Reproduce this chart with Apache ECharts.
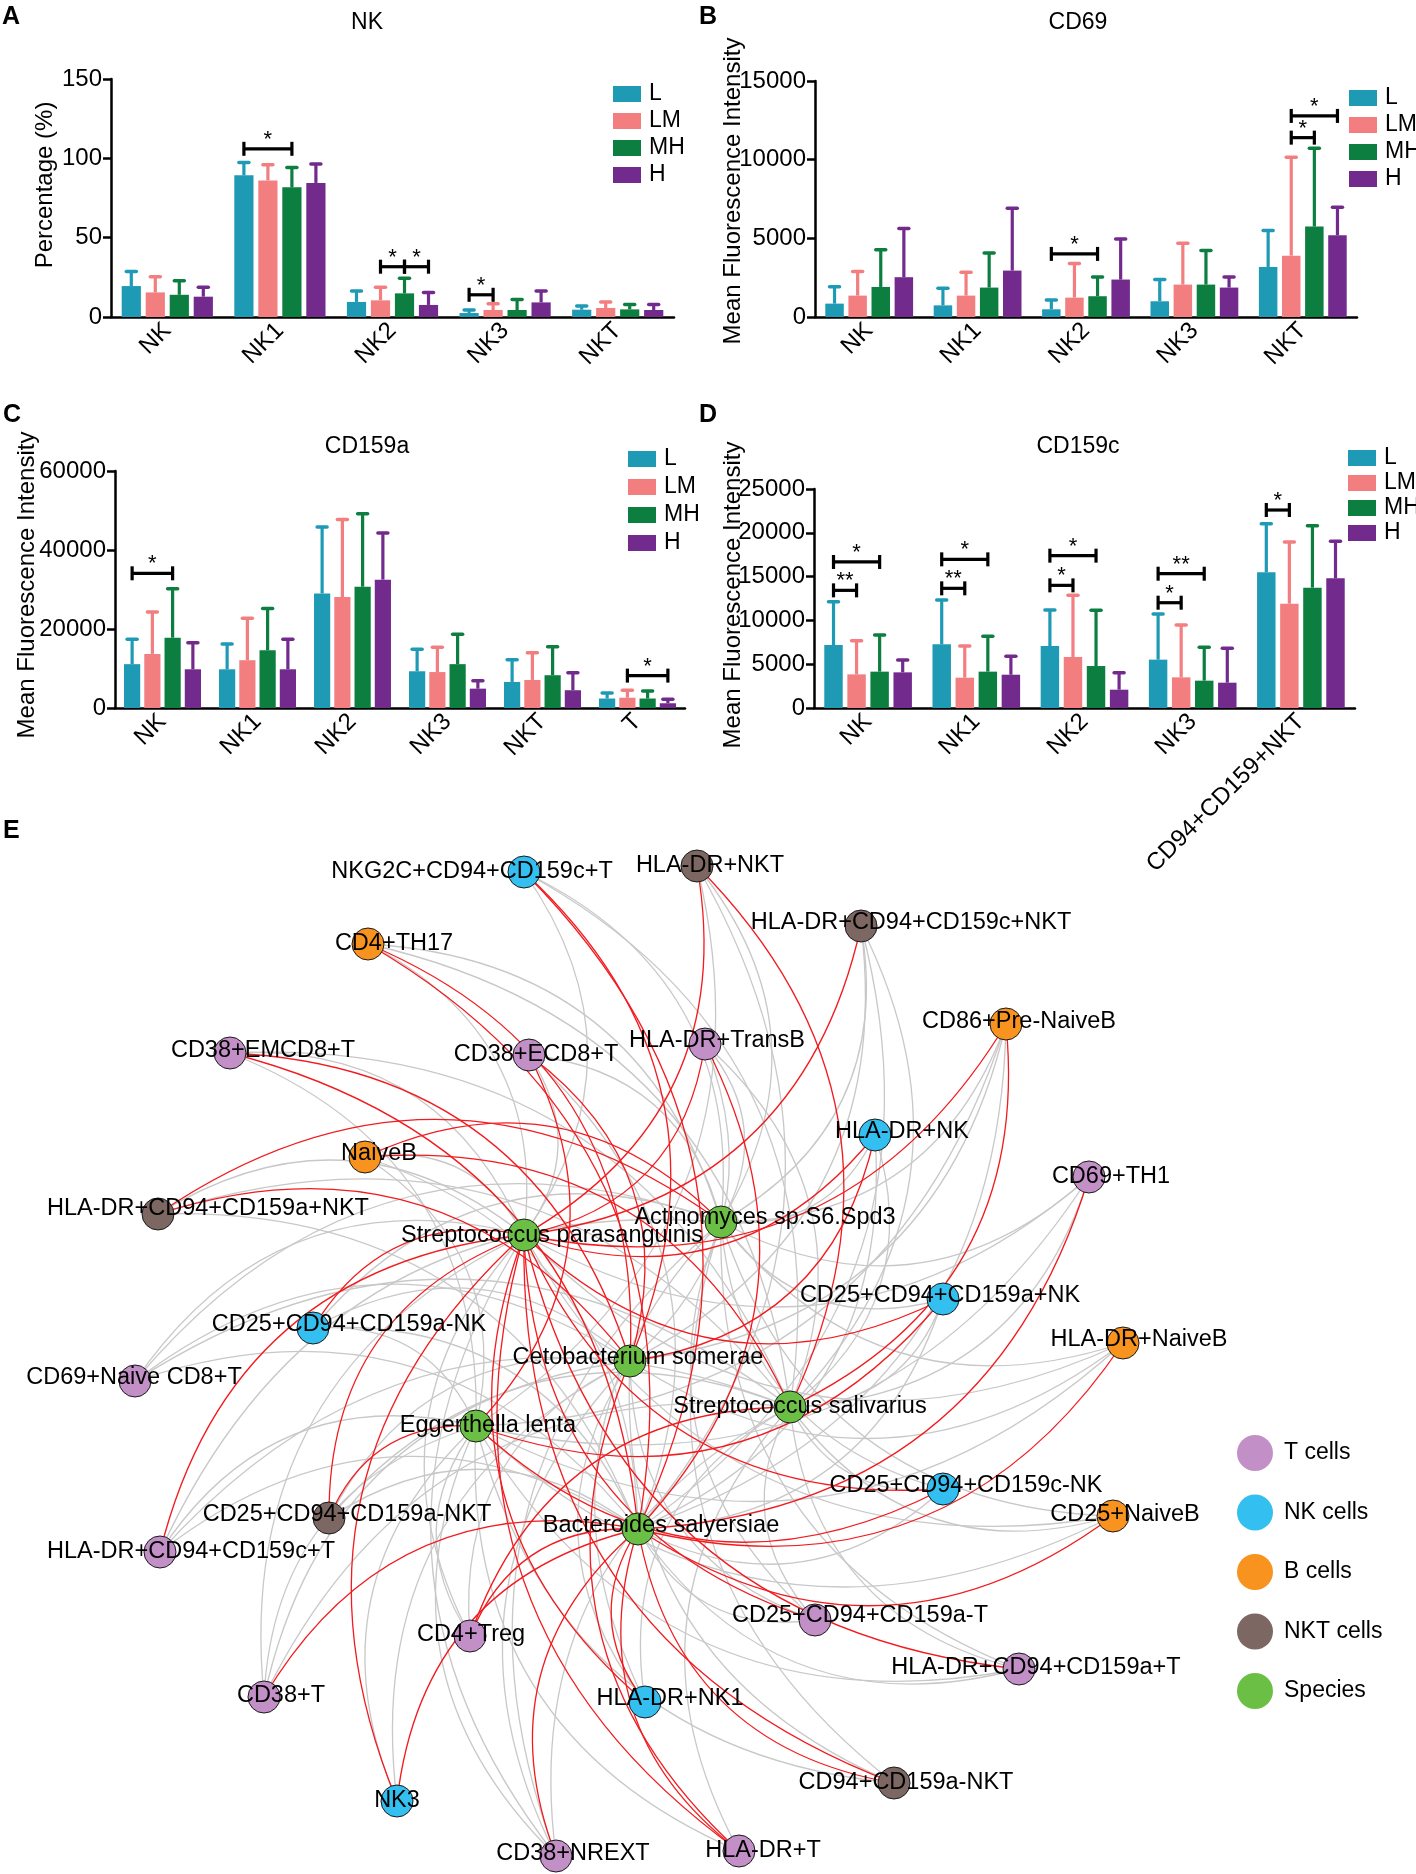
<!DOCTYPE html>
<html><head><meta charset="utf-8">
<script src="https://cdn.jsdelivr.net/npm/echarts@6/dist/echarts.min.js"></script>
<style>html,body{margin:0;padding:0;background:#fff}#c{width:1416px;height:1874px}</style>
</head><body><div id="c"></div>
<script>
const FONT = '"Liberation Sans", Arial, Helvetica, sans-serif';
const groupNames = ['L', 'LM', 'MH', 'H'];
const groupColors = ['#1f9ab5', '#f37e80', '#0c7e40', '#722a8c'];

// ---------- Panel A : NK (Percentage) ----------
const catsA = ['NK', 'NK1', 'NK2', 'NK3', 'NKT'];
const aMeanL  = [19.5, 89.3, 9.5, 2.5, 4.6];
const aMeanLM = [15.5, 86.1, 10.5, 4.4, 5.7];
const aMeanMH = [14.0, 81.7, 14.9, 4.4, 4.8];
const aMeanH  = [12.8, 84.5, 7.6, 9.2, 4.4];
const aSdL  = [9.1, 8.0, 6.9, 1.9, 2.3];
const aSdLM = [9.9, 9.9, 8.2, 4.0, 3.8];
const aSdMH = [8.9, 12.6, 9.5, 6.7, 3.0];
const aSdH  = [5.9, 11.9, 7.9, 7.2, 3.4];
const aSig = [[1, 0, 2, 106, '*'], [2, 1, 2, 31.7, '*'], [2, 2, 3, 31.7, '*'], [3, 0, 1, 14, '*']];

// ---------- Panel B : CD69 ----------
const catsB = ['NK', 'NK1', 'NK2', 'NK3', 'NKT'];
const bMeanL  = [850, 740, 490, 1000, 3180];
const bMeanLM = [1360, 1360, 1230, 2060, 3900];
const bMeanMH = [1910, 1870, 1320, 2060, 5750];
const bMeanH  = [2530, 2950, 2380, 1870, 5200];
const bSdL  = [1080, 1090, 590, 1380, 2320];
const bSdLM = [1530, 1490, 2170, 2630, 6250];
const bSdMH = [2360, 2190, 1230, 2160, 4970];
const bSdH  = [3100, 3970, 2570, 680, 1780];
const bSig = [[2, 0, 2, 4010, '*'], [4, 1, 2, 11400, '*'], [4, 1, 3, 12780, '*']];

// ---------- Panel C : CD159a ----------
const catsC = ['NK', 'NK1', 'NK2', 'NK3', 'NKT', 'T'];
const cMeanL  = [11100, 9800, 29000, 9300, 6600, 2400];
const cMeanLM = [13700, 12100, 28100, 9100, 7100, 2600];
const cMeanMH = [17800, 14600, 30700, 11100, 8300, 2400];
const cMeanH  = [9800, 9800, 32500, 4900, 4500, 1200];
const cSdL  = [6300, 6400, 16800, 5600, 5600, 1400];
const cSdLM = [10600, 10600, 19600, 6300, 6900, 1900];
const cSdMH = [12400, 10600, 18500, 7600, 7200, 1900];
const cSdH  = [6700, 7600, 11800, 2000, 4400, 1000];
const cSig = [[0, 0, 2, 34100, '*'], [5, 1, 3, 8200, '*']];

// ---------- Panel D : CD159c ----------
const catsD = ['NK', 'NK1', 'NK2', 'NK3', 'CD94+CD159+NKT'];
const dMeanL  = [7190, 7270, 7080, 5520, 15490];
const dMeanLM = [3840, 3460, 5820, 3500, 11910];
const dMeanMH = [4150, 4150, 4790, 3120, 13740];
const dMeanH  = [4070, 3800, 2090, 2890, 14800];
const dSdL  = [4950, 5060, 4110, 5210, 5550];
const dSdLM = [3850, 3620, 7040, 5970, 7040];
const dSdMH = [4180, 4030, 6360, 3810, 7070];
const dSdH  = [1410, 2100, 1940, 3920, 4230];
const dSig = [[0, 0, 1, 13430, '**'], [0, 0, 2, 16670, '*'], [1, 0, 1, 13660, '**'], [1, 0, 2, 16970, '*'],
              [2, 0, 1, 14000, '*'], [2, 0, 2, 17390, '*'], [3, 0, 1, 12020, '*'], [3, 0, 2, 15330, '**'],
              [4, 0, 1, 22600, '*']];

// ---------- Panel E : network ----------
const cellTypes = ['T cells', 'NK cells', 'B cells', 'NKT cells', 'Species'];
const typeColors = ['#c290c6', '#33bff0', '#f7931e', '#7c6763', '#6cbf45'];
const speciesNames = ['Streptococcus parasanguinis', 'Actinomyces sp.S6.Spd3', 'Cetobacterium somerae',
                      'Streptococcus salivarius', 'Eggerthella lenta', 'Bacteroides salyersiae'];
const cellNames = ['NKG2C+CD94+CD159c+T', 'HLA-DR+NKT', 'HLA-DR+CD94+CD159c+NKT', 'CD4+TH17', 'CD86+Pre-NaiveB',
  'CD38+EMCD8+T', 'CD38+ECD8+T', 'HLA-DR+TransB', 'HLA-DR+NK', 'NaiveB', 'CD69+TH1', 'HLA-DR+CD94+CD159a+NKT',
  'CD25+CD94+CD159a+NK', 'CD25+CD94+CD159a-NK', 'HLA-DR+NaiveB', 'CD69+Naive CD8+T', 'CD25+CD94+CD159c-NK',
  'CD25+NaiveB', 'CD25+CD94+CD159a-NKT', 'HLA-DR+CD94+CD159c+T', 'CD4+Treg', 'CD25+CD94+CD159a-T',
  'HLA-DR+CD94+CD159a+T', 'CD38+T', 'HLA-DR+NK1', 'NK3', 'CD94+CD159a-NKT', 'CD38+NREXT', 'HLA-DR+T'];
const cellTypeIdx = [1, 3, 3, 2, 2, 0, 0, 0, 1, 2, 0, 3, 1, 1, 2, 0, 1, 2, 3, 0, 0, 0, 0, 0, 1, 1, 3, 0, 0];
// correlation of each cell population with the 6 species (r = red, g = grey, - = none)
const cellLinks = ['ggrg-r', 'rg-rgg', 'rggg-g', 'ggrg-r', 'rggrgg', 'g-rggr', 'ggr-rg', 'rggg-r', 'rgrg-g',
  'gr-rgg', 'gg-ggr', 'grrg-g', 'rg-grg', 'rgg-gg', 'ggg-gr', 'gggg-g', 'rg-grg', 'gg-ggr', 'r-ggrg', 'rg-ggg',
  'g-grgr', 'rggg-g', 'rg-ggg', 'g-gggr', 'rggg-r', 'r-g-gr', 'rgg-gr', 'gggggr', 'r-rggr'];

// layout of the network drawing (pixel positions, label offsets)
const speciesLayout = [[524, 1235, 28, 1], [721, 1222, 44, -4], [630, 1361, 8, -3], [790, 1407, 10, 0],
                       [476, 1426, 12, 0], [638, 1529, 23, -3]];
const cellLayout = [[524, 872, -52, 0], [697, 866, 13, 0], [861, 926, 50, -3], [368, 944, 26, 0], [1006, 1024, 13, -2],
  [230, 1053, 33, -2], [529, 1055, 7, 0], [705, 1044, 12, -3], [875, 1135, 27, -3], [365, 1157, 14, -3],
  [1089, 1177, 22, 0], [158, 1214, 50, -5], [943, 1299, -3, -3], [313, 1328, 36, -3], [1123, 1343, 16, -3],
  [135, 1381, -1, -3], [943, 1489, 23, -3], [1113, 1516, 12, -1], [329, 1518, 18, -3], [160, 1552, 31, 0],
  [470, 1636, 1, -1], [815, 1620, 45, -4], [1019, 1669, 17, -1], [264, 1697, 17, -1], [645, 1702, 25, -3],
  [397, 1801, 0, 0], [894, 1783, 12, 0], [556, 1856, 17, -2], [739, 1851, 24, 0]];

// ---------- build ----------
const CG = 0.19, BG = 0.25;
const panels = [
  {cats: catsA, means: [aMeanL, aMeanLM, aMeanMH, aMeanH], sds: [aSdL, aSdLM, aSdMH, aSdH], sig: aSig, max: 150, interval: 50,
   grid: {left: 111, top: 79, width: 563, height: 238}, lg: {left: 613, top: 82, gap: 3}},
  {cats: catsB, means: [bMeanL, bMeanLM, bMeanMH, bMeanH], sds: [bSdL, bSdLM, bSdMH, bSdH], sig: bSig, max: 15000, interval: 5000,
   grid: {left: 815, top: 81, width: 542, height: 236}, lg: {left: 1349, top: 86, gap: 3}},
  {cats: catsC, means: [cMeanL, cMeanLM, cMeanMH, cMeanH], sds: [cSdL, cSdLM, cSdMH, cSdH], sig: cSig, max: 60000, interval: 20000,
   grid: {left: 115, top: 471, width: 570, height: 237}, lg: {left: 628, top: 447, gap: 4}},
  {cats: catsD, means: [dMeanL, dMeanLM, dMeanMH, dMeanH], sds: [dSdL, dSdLM, dSdMH, dSdH], sig: dSig, max: 25000, interval: 5000,
   grid: {left: 814, top: 489, width: 541, height: 219}, lg: {left: 1348, top: 446, gap: 1}}
];

const grids = [], xAxes = [], yAxes = [], series = [], legends = [];
const axisLineStyle = {color: '#000', width: 2.5};
panels.forEach((p, i) => {
  grids.push(p.grid);
  xAxes.push({type: 'category', gridIndex: i, data: p.cats,
    axisLine: {lineStyle: axisLineStyle}, axisTick: {alignWithLabel: true, length: 8, lineStyle: axisLineStyle},
    axisLabel: {rotate: 45, interval: 0, fontSize: 24, color: '#000', fontFamily: FONT, margin: 10}});
  yAxes.push({type: 'value', gridIndex: i, min: 0, max: p.max, interval: p.interval,
    axisLine: {show: true, lineStyle: axisLineStyle}, axisTick: {show: true, length: 8, lineStyle: axisLineStyle},
    splitLine: {show: false},
    axisLabel: {fontSize: 24, color: '#000', fontFamily: FONT, margin: 9, formatter: v => String(v)}});
  groupNames.forEach((g, k) => {
    series.push({type: 'bar', name: g, xAxisIndex: i, yAxisIndex: i, data: p.means[k],
      itemStyle: {color: groupColors[k]}, barGap: (BG * 100) + '%', barCategoryGap: (CG * 100) + '%'});
  });
  const errData = [];
  p.means.forEach((arr, k) => arr.forEach((m, c) => errData.push([c, m, m + p.sds[k][c], k])));
  series.push({type: 'custom', name: 'err' + i, xAxisIndex: i, yAxisIndex: i, data: errData, clip: false, z: 3,
    encode: {x: 0, y: [1, 2]},
    renderItem(params, api) {
      const c = api.value(0), k = api.value(3);
      const p0 = api.coord([c, api.value(1)]), p1 = api.coord([c, api.value(2)]);
      const band = api.size([1, 0])[0];
      const bw = band * (1 - CG) / (4 + 3 * BG);
      const x = p0[0] + (k - 1.5) * bw * (1 + BG);
      const col = groupColors[k];
      return {type: 'group', children: [
        {type: 'line', shape: {x1: x, y1: p0[1], x2: x, y2: p1[1]}, style: {stroke: col, lineWidth: 3.2}},
        {type: 'line', shape: {x1: x - 5, y1: p1[1], x2: x + 5, y2: p1[1]}, style: {stroke: col, lineWidth: 3.5, lineCap: 'round'}}
      ]};
    }});
  const sigArr = p.sig;
  series.push({type: 'custom', name: 'sig' + i, xAxisIndex: i, yAxisIndex: i, clip: false, z: 4,
    data: sigArr.map(s => [s[0], s[1], s[2], s[3]]), encode: {x: 0, y: 3},
    renderItem(params, api) {
      const c = api.value(0), g1 = api.value(1), g2 = api.value(2);
      const base = api.coord([c, api.value(3)]);
      const band = api.size([1, 0])[0];
      const bw = band * (1 - CG) / (4 + 3 * BG);
      const step = bw * (1 + BG);
      const xa = base[0] + (g1 - 1.5) * step, xb = base[0] + (g2 - 1.5) * step, y = base[1];
      const st = {stroke: '#000', lineWidth: 3.2};
      return {type: 'group', children: [
        {type: 'line', shape: {x1: xa, y1: y, x2: xb, y2: y}, style: st},
        {type: 'line', shape: {x1: xa, y1: y - 7, x2: xa, y2: y + 7}, style: st},
        {type: 'line', shape: {x1: xb, y1: y - 7, x2: xb, y2: y + 7}, style: st},
        {type: 'text', style: {text: sigArr[params.dataIndex][4], x: (xa + xb) / 2, y: y + 2, align: 'center',
          verticalAlign: 'bottom', font: '22px ' + FONT, fill: '#000'}}
      ]};
    }});
  legends.push({data: groupNames, orient: 'vertical', left: p.lg.left, top: p.lg.top, itemGap: p.lg.gap,
    itemWidth: 28, itemHeight: 16, icon: 'rect', padding: 0, selectedMode: false,
    textStyle: {fontSize: 23, color: '#000', fontFamily: FONT, lineHeight: 24, padding: [0, 0, 0, 3]}});
});

// network on a hidden full-page cartesian grid
const NG = panels.length;
grids.push({left: 0, top: 0, width: 1416, height: 1874});
xAxes.push({type: 'value', gridIndex: NG, min: 0, max: 1416, show: false});
yAxes.push({type: 'value', gridIndex: NG, min: 0, max: 1874, inverse: true, show: false});
const nodes = [];
speciesNames.forEach((n, i) => {
  const L = speciesLayout[i];
  nodes.push({name: n, value: [L[0], L[1]], category: 4, label: {offset: [L[2], L[3]]}});
});
cellNames.forEach((n, i) => {
  const L = cellLayout[i];
  nodes.push({name: n, value: [L[0], L[1]], category: cellTypeIdx[i], label: {offset: [L[2], L[3]]}});
});
const greyLinks = [], redLinks = [];
cellNames.forEach((n, i) => {
  cellLinks[i].split('').forEach((ch, s) => {
    if (ch === 'g') greyLinks.push({source: n, target: speciesNames[s], lineStyle: {color: '#c8c8c8'}});
    if (ch === 'r') redLinks.push({source: n, target: speciesNames[s], lineStyle: {color: '#f21b1f'}});
  });
});
series.push({type: 'graph', name: 'network', layout: 'none', coordinateSystem: 'cartesian2d',
  xAxisIndex: NG, yAxisIndex: NG, silent: true, symbol: 'circle', symbolSize: 32, z: 5,
  categories: cellTypes.map((c, i) => ({name: c, itemStyle: {color: typeColors[i]}})),
  itemStyle: {borderColor: '#1a1a1a', borderWidth: 1},
  label: {show: true, position: 'inside', fontSize: 23.5, color: '#000', fontFamily: FONT},
  lineStyle: {width: 1.3, curveness: 0.35, opacity: 1},
  data: nodes, links: greyLinks.concat(redLinks)});
legends.push({data: cellTypes, orient: 'vertical', left: 1237, top: 1435, itemWidth: 36, itemHeight: 36, itemGap: 23.5,
  icon: 'circle', padding: 0, selectedMode: false, itemStyle: {borderWidth: 0},
  textStyle: {fontSize: 23, color: '#000', fontFamily: FONT, padding: [0, 0, 0, 6]}});

function txt(t, x, y, size, opts) {
  return Object.assign({type: 'text', x: x, y: y, silent: true,
    style: {text: t, font: size + 'px ' + FONT, fill: '#000', align: 'center', verticalAlign: 'middle'}}, opts || {});
}
const boldL = (t, x, y) => ({type: 'text', x: x, y: y, style: {text: t, font: 'bold 25px ' + FONT, fill: '#000', align: 'left', verticalAlign: 'middle'}});
const graphic = [
  boldL('A', 2, 17), boldL('B', 699, 17), boldL('C', 3, 415), boldL('D', 699, 415), boldL('E', 3, 831),
  txt('NK', 367, 23, 23), txt('CD69', 1078, 23, 23), txt('CD159a', 367, 447, 23), txt('CD159c', 1078, 447, 23),
  txt('Percentage (%)', 45, 185, 24, {rotation: Math.PI / 2}),
  txt('Mean Fluorescence Intensity', 733, 191, 24, {rotation: Math.PI / 2}),
  txt('Mean Fluorescence Intensity', 27, 585, 24, {rotation: Math.PI / 2}),
  txt('Mean Fluorescence Intensity', 733, 595, 24, {rotation: Math.PI / 2})
];

const chart = echarts.init(document.getElementById('c'), null, {width: 1416, height: 1874});
chart.setOption({
  animation: false, backgroundColor: '#fff',
  textStyle: {fontFamily: FONT},
  grid: grids, xAxis: xAxes, yAxis: yAxes, legend: legends, series: series, graphic: graphic
});
</script></body></html>
